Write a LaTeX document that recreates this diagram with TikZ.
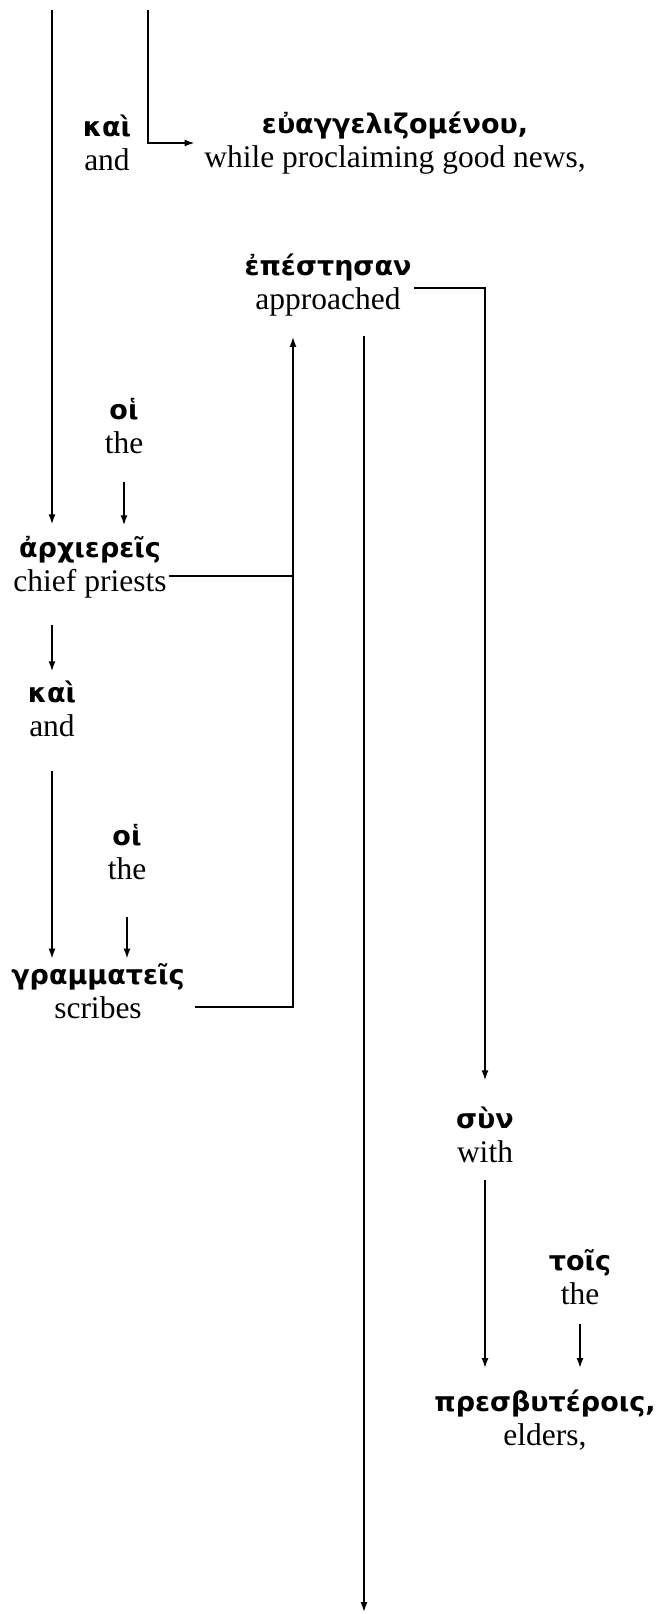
\documentclass[tikz,border=0pt]{standalone}
\usepackage{fontspec}
\setmainfont{Liberation Serif}
\newfontfamily\grk[Script=Greek]{DejaVu Sans}
\usetikzlibrary{arrows.meta}

% Greek word over its gloss
\newcommand{\gw}[2]{{\grk\bfseries\fontsize{27}{34}\selectfont #1}\\#2}

\begin{document}
\begin{tikzpicture}[>={Latex[length=10pt,width=7pt]}, x=1pt, y=-1pt, line width=1.5pt,
    word/.style={align=center, inner sep=2pt, font=\fontsize{31.5}{34}\selectfont}]
    \useasboundingbox (0,0) rectangle (665,1614);

    \node[word] (kai1) at (107,143) {\gw{καὶ}{and}};
    \node[word] (euangelizomenou) at (395,143) {\gw{εὐαγγελιζομένου,}{while proclaiming good news,}};
    \node[word] (epestesan) at (328,285) {\gw{ἐπέστησαν}{approached}};
    \node[word] (hoi1) at (124,426) {\gw{οἱ}{the}};
    \node[word] (archiereis) at (90,567) {\gw{ἀρχιερεῖς}{chief priests}};
    \node[word] (kai2) at (52,709) {\gw{καὶ}{and}};
    \node[word] (hoi2) at (127,852) {\gw{οἱ}{the}};
    \node[word] (grammateis) at (98,991) {\gw{γραμματεῖς}{scribes}};
    \node[word] (syn) at (485,1135) {\gw{σὺν}{with}};
    \node[word] (tois) at (580,1277) {\gw{τοῖς}{the}};
    \node[word] (presbyterois) at (545,1420) {\gw{πρεσβυτέροις,}{elders,}};

    \coordinate (topA) at (52,10);
    \coordinate (topB) at (148,10);
    \coordinate (join) at (293,1007);
    \coordinate (bottom) at (364,1612);

    % lines coming in from above
    \draw[->] (topA) -- ([yshift=9pt]topA |- archiereis.north);
    \draw[->, shorten >=7pt] (topB) |- (euangelizomenou.west);

    % subject and verb
    \draw[->, shorten >=24pt] ([yshift=-3pt]epestesan.east) -| (syn.north);
    \draw[->, shorten <=17pt] (epestesan.south -| bottom) -- (bottom);
    \draw ([yshift=-9pt]archiereis.east) -- ([yshift=-9pt]archiereis.east -| join);
    \draw[->, shorten >=18pt] ([xshift=8pt, yshift=-16pt]grammateis.east) -- (join) -- (join |- epestesan.south);

    % articles and conjunctions
    \draw[->, shorten <=25pt, shorten >=8pt] (hoi1.south) -- (hoi1.south |- archiereis.north);
    \draw[->, shorten <=24pt, shorten >=7pt] (archiereis.south -| kai2) -- (kai2.north);
    \draw[->, shorten <=31pt, shorten >=2pt] (kai2.south) -- (kai2.south |- grammateis.north);
    \draw[->, shorten <=34pt, shorten >=2pt] (hoi2.south) -- (hoi2.south |- grammateis.north);
    \draw[->, shorten <=14pt, shorten >=19pt] (syn.south) -- (syn.south |- presbyterois.north);
    \draw[->, shorten <=17pt, shorten >=19pt] (tois.south) -- (tois.south |- presbyterois.north);
\end{tikzpicture}
\end{document}
